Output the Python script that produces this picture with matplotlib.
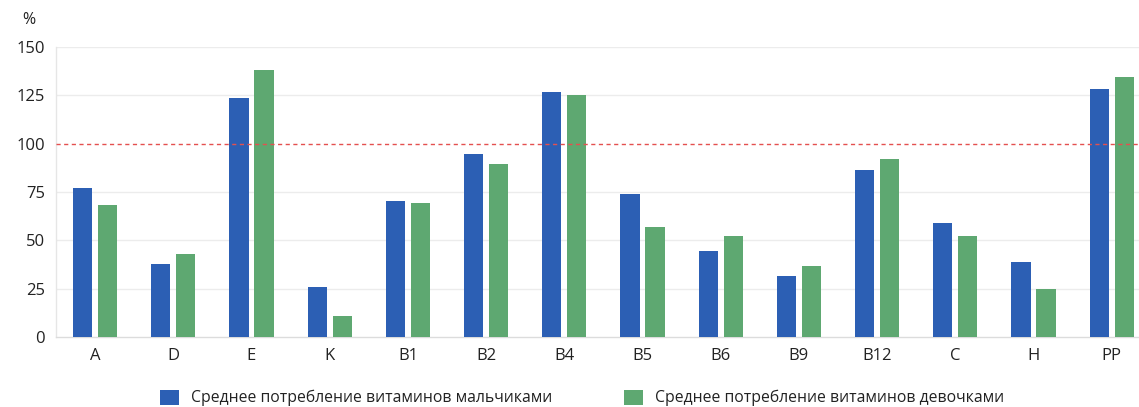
import matplotlib
matplotlib.use("Agg")
import matplotlib.pyplot as plt
import numpy as np
from matplotlib.patches import Patch

vitamins = ["A", "D", "E", "K", "B1", "B2", "B4", "B5", "B6", "B9", "B12", "C", "H", "PP"]
boys = [77, 38, 123.5, 26, 70.5, 94.5, 126.5, 74, 44.5, 31.5, 86.5, 59, 39, 128.5]
girls = [68.5, 43, 138, 11, 69.5, 89.5, 125, 57, 52, 36.5, 92, 52, 25, 134.5]
y_ticks = [0, 25, 50, 75, 100, 125, 150]
norm_level = 100
legend_labels = ["Среднее потребление витаминов мальчиками",
                 "Среднее потребление витаминов девочками"]

BLUE = "#2c5fb4"
GREEN = "#5ea871"

plt.rcParams["font.family"] = ["Open Sans", "DejaVu Sans"]

W, H = 1139, 407
fig = plt.figure(figsize=(W / 100, H / 100), dpi=100)
ax = fig.add_axes([56 / W, (H - 337) / H, 1 - 56 / W, (337 - 47) / H])

x = np.arange(len(vitamins))
bw = 0.245
off = 0.16
ax.bar(x - off, boys, width=bw, color=BLUE, zorder=3)
ax.bar(x + off, girls, width=bw, color=GREEN, zorder=3)

# recommended norm
ax.axhline(norm_level, color="#e4504f", lw=1.0, ls=(0, (3, 2.5)), zorder=4)

ax.set_xlim(-0.5, 13.35)
ax.set_ylim(0, 150)
ax.set_yticks(y_ticks)
ax.set_yticklabels([str(t) for t in y_ticks])
ax.set_xticks(x)
ax.set_xticklabels(vitamins)
ax.tick_params(axis="both", length=0, labelsize=12, colors="#222222")
ax.tick_params(axis="y", pad=8)
ax.tick_params(axis="x", pad=8)

for t in y_ticks[1:]:
    if t != norm_level:
        ax.axhline(t, color="#ececec", lw=1.0, zorder=1)

for s in ["top", "right"]:
    ax.spines[s].set_visible(False)
ax.spines["left"].set_color("#e6e6e6")
ax.spines["bottom"].set_color("#dcdcdc")
ax.spines["left"].set_linewidth(1.0)
ax.spines["bottom"].set_linewidth(1.0)

fig.text(29 / W, 1 - 20 / H, "%", ha="center", va="center", fontsize=11.5, color="#222222")

handles = [Patch(facecolor=BLUE), Patch(facecolor=GREEN)]
fig.legend(handles, legend_labels, loc="center left", ncol=2, frameon=False,
           bbox_to_anchor=(154 / W, 1 - 398 / H), fontsize=11.3,
           handlelength=1.2, handleheight=1.1, handletextpad=0.75,
           columnspacing=4.6, labelcolor="#222222", borderaxespad=0)

fig.savefig("out.png", dpi=100, facecolor="white")
